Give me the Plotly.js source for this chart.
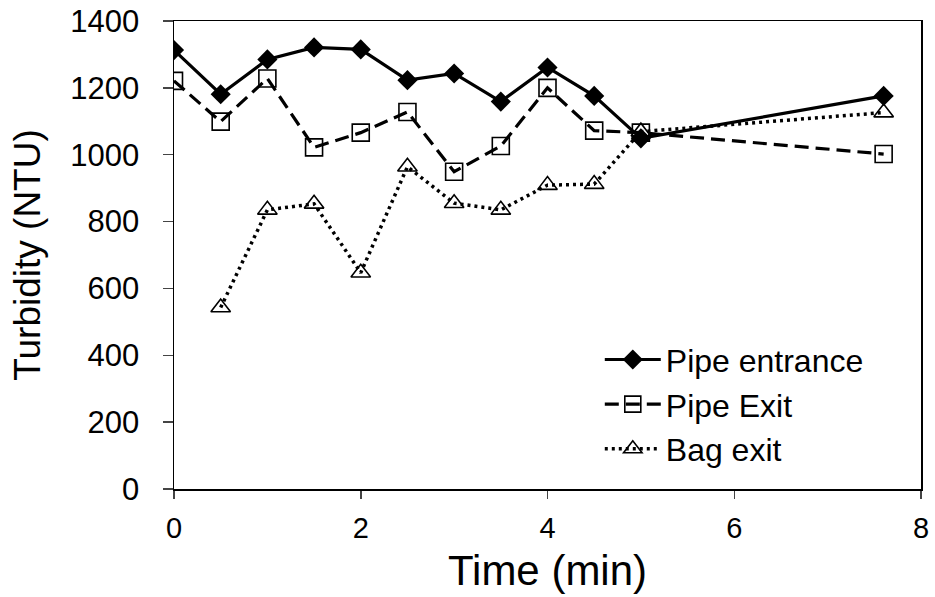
<!DOCTYPE html>
<html>
<head>
<meta charset="utf-8">
<script src="https://cdn.plot.ly/plotly-3.0.1.min.js"></script>
<style>html,body{margin:0;padding:0;background:#fff}#chart{width:935px;height:597px}</style>
</head>
<body>
<div id="chart"></div>
<script>
const timeMain = [0, 0.5, 1, 1.5, 2, 2.5, 3, 3.5, 4, 4.5, 5, 7.6];
const pipeEntrance = [1313, 1181, 1285, 1321, 1315, 1223, 1243, 1159, 1261, 1176, 1049, 1176];
const pipeExit = [1221, 1099, 1228, 1022, 1066, 1128, 949, 1026, 1200, 1072, 1066, 1002];
const timeBag = [0.5, 1, 1.5, 2, 2.5, 3, 3.5, 4, 4.5, 5, 7.6];
const bagExit = [543, 835, 853, 647, 964, 855, 835, 909, 912, 1069, 1126];
const seriesNames = ["Pipe entrance", "Pipe Exit", "Bag exit"];
const xTicks = [0, 2, 4, 6, 8];
const yTicks = [0, 200, 400, 600, 800, 1000, 1200, 1400];

const traces = [
  {x: timeBag, y: bagExit, name: seriesNames[2], mode: "lines+markers",
   line: {color: "#000", width: 3.5, dash: "3px,4px"},
   marker: {symbol: "triangle-up-open", size: 17, color: "#000", line: {width: 1.6, color: "#000"}}},
  {x: timeMain, y: pipeExit, name: seriesNames[1], mode: "lines+markers",
   line: {color: "#000", width: 3.2, dash: "14px,7px"},
   marker: {symbol: "square-open", size: 17, color: "#000", line: {width: 1.6, color: "#000"}}},
  {x: timeMain, y: pipeEntrance, name: seriesNames[0], mode: "lines+markers",
   line: {color: "#000", width: 3.2},
   marker: {symbol: "diamond", size: 15.5, color: "#000"}}
];

const layout = {
  width: 935, height: 597,
  margin: {l: 174, r: 14, t: 21, b: 108},
  paper_bgcolor: "#fff", plot_bgcolor: "#fff",
  font: {family: "Arial, 'Liberation Sans', sans-serif", color: "#000"},
  showlegend: true,
  legend: {x: 0.57, y: 0.335, xanchor: "left", yanchor: "top", traceorder: "reversed",
           font: {size: 32, color: "#000"}, bgcolor: "rgba(0,0,0,0)", itemwidth: 56,
           tracegroupgap: 0},
  xaxis: {range: [0, 8], tickvals: xTicks, ticks: "outside", ticklen: 8, tickwidth: 1.5,
          showline: true, linewidth: 1.5, linecolor: "#000", mirror: true, showgrid: false, zeroline: false,
          ticklabelstandoff: 5,
          tickfont: {size: 29}, title: {text: "Time (min)", font: {size: 42}, standoff: 12}},
  yaxis: {range: [0, 1400], tickvals: yTicks, ticks: "outside", ticklen: 10, tickwidth: 1.5,
          showline: true, linewidth: 1.5, linecolor: "#000", mirror: true, showgrid: false, zeroline: false,
          ticklabelstandoff: 17,
          tickfont: {size: 31}, title: {text: "Turbidity (NTU)", font: {size: 37}, standoff: 18}}
};

Plotly.newPlot("chart", traces, layout, {displayModeBar: false, staticPlot: true});
</script>
</body>
</html>
